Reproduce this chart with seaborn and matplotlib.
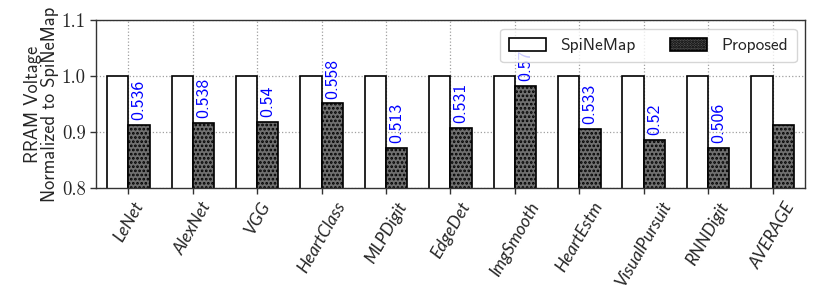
import numpy as np
import pandas as pd
import matplotlib
matplotlib.use("Agg")
import matplotlib.pyplot as plt
import matplotlib.patches as mpatches
import seaborn as sns

# data
benchmarks = ["LeNet", "AlexNet", "VGG", "HeartClass", "MLPDigit", "EdgeDet",
              "ImgSmooth", "HeartEstm", "VisualPursuit", "RNNDigit", "AVERAGE"]
spinemap = [1.0, 1.0, 1.0, 1.0, 1.0, 1.0, 1.0, 1.0, 1.0, 1.0, 1.0]
proposed = [0.912, 0.917, 0.918, 0.951, 0.872, 0.908, 0.982, 0.905, 0.886, 0.872, 0.912]
annotations = ["0.536", "0.538", "0.54", "0.558", "0.513", "0.531",
               "0.57", "0.533", "0.52", "0.506", ""]

sns.set_style("ticks")
plt.rcParams['font.family'] = ['cmss10', 'DejaVu Sans']
plt.rcParams['axes.unicode_minus'] = False
plt.rcParams['hatch.linewidth'] = 1.3

df = pd.DataFrame({
    "bench": benchmarks * 2,
    "value": spinemap + proposed,
    "kind": ["SpiNeMap"] * len(benchmarks) + ["Proposed"] * len(benchmarks),
})

fig, ax = plt.subplots(figsize=(8.22, 3.02), dpi=100)
fig.subplots_adjust(left=0.117, right=0.979, top=0.934, bottom=0.377)

sns.barplot(data=df, x="bench", y="value", hue="kind", order=benchmarks,
            hue_order=["SpiNeMap", "Proposed"], palette=["white", "#707070"],
            width=0.66, gap=0, edgecolor="black", linewidth=1.2,
            saturation=1, legend=False, ax=ax)

for bar in ax.containers[1]:
    bar.set_hatch("....")

# value labels over the proposed bars
for bar, txt in zip(ax.containers[1], annotations):
    if txt:
        ax.annotate(txt, (bar.get_x() + bar.get_width() / 2, bar.get_height()),
                    xytext=(0, 3.5), textcoords="offset points", rotation=90,
                    ha="center", va="bottom", color="blue", fontsize=12.8,
                    zorder=1)

ax.set_ylim(0.8, 1.1)
ax.set_xlim(-0.5, len(benchmarks) - 0.5)
ax.set_yticks([0.8, 0.9, 1.0, 1.1])
ax.set_yticklabels(["0.8", "0.9", "1.0", "1.1"], family="cmr10", fontsize=13.5)
ax.set_xticks(range(len(benchmarks)))
ax.set_xticklabels(benchmarks, rotation=60, ha="center",
                   family="Lato", style="italic", fontsize=12.5)
ax.set_xlabel("")
ax.set_ylabel("RRAM Voltage\nNormalized to SpiNeMap", fontsize=13.3, linespacing=0.95,
              labelpad=2)

ax.set_axisbelow(True)
ax.grid(True, linestyle=":", color="#a0a0a0", linewidth=0.9)
for sp in ax.spines.values():
    sp.set_color("#333333")
    sp.set_linewidth(1.0)
ax.tick_params(axis="both", direction="out", length=4, width=1, color="#333333")
ax.tick_params(axis="x", pad=4)

handles = [mpatches.Patch(facecolor="white", edgecolor="black", linewidth=1.2, label="SpiNeMap"),
           mpatches.Patch(facecolor="#505050", edgecolor="black", hatch="......",
                          linewidth=1.2, label="Proposed")]
ax.legend(handles=handles, loc="upper right", ncol=2, fontsize=12.5,
          frameon=True, framealpha=0.8, fancybox=True, edgecolor="#cccccc",
          handlelength=2.1, handleheight=0.8, handletextpad=0.85, columnspacing=2.0,
          bbox_to_anchor=(0.989, 0.946), borderaxespad=0, borderpad=0.5)

fig.savefig("out.png", dpi=100)
